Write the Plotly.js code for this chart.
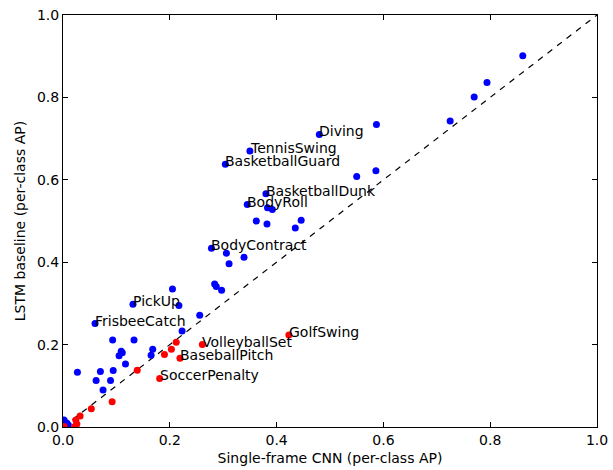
<!DOCTYPE html>
<html>
<head>
<meta charset="utf-8">
<script src="https://cdn.plot.ly/plotly-3.0.1.min.js"></script>
<style>html,body{margin:0;padding:0;background:#fff;}#chart{width:613px;height:470px;}</style>
</head>
<body>
<div id="chart"></div>
<script>
// LSTM (blue: LSTM better), single-frame CNN better (red)
const blueX = [0.861,0.794,0.770,0.725,0.587,0.480,0.586,0.550,0.350,0.304,0.380,0.345,0.383,0.392,0.362,0.382,0.446,0.435,0.278,0.306,0.311,0.339,0.284,0.287,0.297,0.205,0.131,0.217,0.256,0.060,0.223,0.093,0.133,0.168,0.165,0.109,0.111,0.105,0.117,0.027,0.070,0.094,0.062,0.089,0.075,0.002,0.007,0.010];
const blueY = [0.901,0.836,0.801,0.743,0.734,0.710,0.622,0.608,0.670,0.638,0.566,0.540,0.532,0.528,0.500,0.493,0.502,0.483,0.434,0.422,0.396,0.412,0.347,0.341,0.332,0.335,0.298,0.295,0.271,0.251,0.233,0.211,0.211,0.189,0.174,0.184,0.180,0.173,0.153,0.133,0.135,0.137,0.113,0.113,0.090,0.017,0.010,0.005];
const blueLabels = ['','','','','','Diving','','','TennisSwing','BasketballGuard','BasketballDunk','BodyRoll','','','','','','','BodyContract','','','','','','','','PickUp','','','FrisbeeCatch','','','','','','','','','','','','','','','','','',''];
const redX = [0.423,0.261,0.212,0.203,0.190,0.219,0.181,0.139,0.092,0.053,0.032,0.024,0.026,0.022,0.002];
const redY = [0.223,0.200,0.206,0.189,0.176,0.167,0.118,0.138,0.061,0.044,0.027,0.017,0.007,0.001,0.001];
const redLabels = ['GolfSwing','VolleyballSet','','','','BaseballPitch','SoccerPenalty','','','','','','','',''];
const diagX = [0, 1];
const diagY = [0, 1];
const tickVals = [0, 0.2, 0.4, 0.6, 0.8, 1.0];
const tickText = ['0.0','0.2','0.4','0.6','0.8','1.0'];

const font = {family: 'DejaVu Sans', size: 14, color: '#000'};

const traces = [
  {x: diagX, y: diagY, mode: 'lines', line: {color: '#000', width: 1.2, dash: '6px,6px'}, hoverinfo: 'skip'},
  {x: blueX, y: blueY, mode: 'markers', marker: {color: '#0000ff', size: 7, line: {width: 0}}},
  {x: redX, y: redY, mode: 'markers', marker: {color: '#ff0000', size: 7, line: {width: 0}}}
];

const annotations = [];
function addLabels(xs, ys, labs) {
  labs.forEach((t, i) => {
    if (!t) return;
    annotations.push({x: xs[i], y: ys[i], xref: 'x', yref: 'y', text: t, showarrow: false,
      xanchor: 'left', yanchor: 'bottom', xshift: -2, yshift: -7, font: font});
  });
}
addLabels(blueX, blueY, blueLabels);
addLabels(redX, redY, redLabels);

const axisCommon = {
  range: [0, 1], tickvals: tickVals, ticktext: tickText, ticks: 'inside', ticklen: 5, tickwidth: 1,
  tickcolor: '#000', showline: true, linecolor: '#000', linewidth: 1, mirror: 'ticks',
  showgrid: false, zeroline: false, tickfont: font, fixedrange: true
};

const layout = {
  width: 613, height: 470,
  margin: {l: 63, r: 16, t: 15, b: 43},
  paper_bgcolor: '#fff', plot_bgcolor: '#fff',
  showlegend: false,
  xaxis: Object.assign({}, axisCommon, {title: {text: 'Single-frame CNN (per-class AP)', font: font, standoff: 6}}),
  yaxis: Object.assign({}, axisCommon, {title: {text: 'LSTM baseline (per-class AP)', font: font, standoff: 8}}),
  annotations: annotations
};

Plotly.newPlot('chart', traces, layout, {staticPlot: true});
</script>
</body>
</html>
